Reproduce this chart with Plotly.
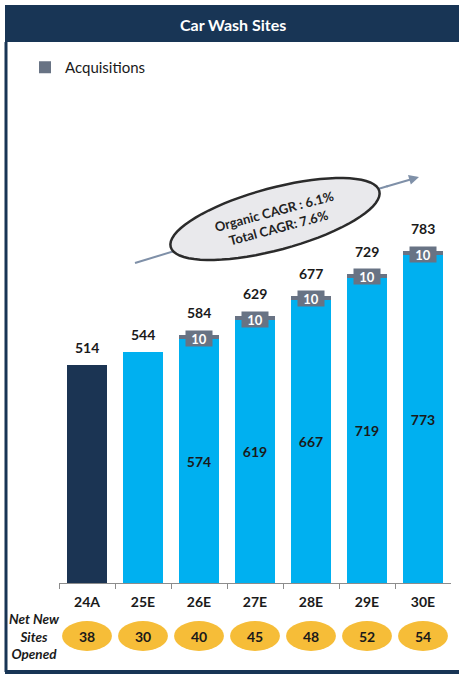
import numpy as np
import plotly.graph_objects as go

# data
years = ["24A", "25E", "26E", "27E", "28E", "29E", "30E"]
organic = [514, 544, 574, 619, 667, 719, 773]
acquisitions = [0, 0, 10, 10, 10, 10, 10]
totals = [514, 544, 584, 629, 677, 729, 783]
net_new_sites = [38, 30, 40, 45, 48, 52, 54]
cagr_lines = ["Organic CAGR : 6.1%", "Total CAGR: 7.6%"]

W, H = 459, 675
FONT = "Lato"
NAVY = "#1b3453"
SKY = "#00b0f0"
GREY = "#687384"
GOLD = "#f6bd38"
INK = "#1a1a1a"


def px(x):
    return x / W


def py(y):
    return 1 - y / H


bar_colors = [NAVY] + [SKY] * (len(years) - 1)
inner_text = [str(o) if a > 0 else "" for o, a in zip(organic, acquisitions)]

fig = go.Figure()
fig.add_trace(go.Bar(
    x=years, y=organic, name="Organic", showlegend=False,
    marker=dict(color=bar_colors, line=dict(width=0)),
    text=inner_text, textposition="inside", insidetextanchor="middle",
    textfont=dict(family=FONT, size=14, color=INK, weight="bold"),
    hoverinfo="skip",
))
fig.add_trace(go.Bar(
    x=years, y=acquisitions, name="Acquisitions",
    marker=dict(color=GREY, line=dict(width=0)),
    hoverinfo="skip",
))

annotations = []
shapes = []

# totals above the bars + grey "10" badges
for yr, org, acq, tot in zip(years, organic, acquisitions, totals):
    annotations.append(dict(
        x=yr, y=tot, xref="x", yref="y", text=str(tot), showarrow=False,
        xanchor="center", yanchor="bottom", yshift=12 if acq else 7,
        font=dict(family=FONT, size=14, color=INK, weight="bold"),
    ))
    if acq:
        annotations.append(dict(
            x=yr, y=org, xref="x", yref="y", text=str(acq), showarrow=False,
            xanchor="center", yanchor="middle", yshift=1, width=26, height=15,
            bgcolor=GREY, borderpad=0,
            font=dict(family=FONT, size=13, color="white", weight="bold"),
        ))

# net new sites ovals under the axis
for i, (yr, n) in enumerate(zip(years, net_new_sites)):
    shapes.append(dict(
        type="circle", xref="x", yref="paper",
        x0=i - 0.445, x1=i + 0.445, y0=py(651), y1=py(621),
        fillcolor=GOLD, line=dict(width=0), layer="above",
    ))
    annotations.append(dict(
        x=yr, y=py(636), xref="x", yref="paper", text=str(n), showarrow=False,
        xanchor="center", yanchor="middle",
        font=dict(family=FONT, size=14, color=INK, weight="bold"),
    ))

annotations.append(dict(
    x=px(34), y=py(636), xref="paper", yref="paper",
    text="<i>Net New<br>Sites<br>Opened</i>", showarrow=False, align="center",
    xanchor="center", yanchor="middle",
    font=dict(family=FONT, size=13.5, color=INK, weight="bold"),
))

# header band, frame
shapes.append(dict(type="rect", xref="paper", yref="paper",
                   x0=px(5), x1=1, y0=py(42), y1=py(5),
                   fillcolor="#183555", line=dict(width=0)))
shapes.append(dict(type="line", xref="paper", yref="paper",
                   x0=px(6), x1=px(6), y0=py(42), y1=py(672),
                   line=dict(color="#183555", width=3)))
shapes.append(dict(type="line", xref="paper", yref="paper",
                   x0=px(5), x1=1, y0=py(672), y1=py(672),
                   line=dict(color="#183555", width=4)))
annotations.append(dict(
    x=px(233), y=py(25), xref="paper", yref="paper", text="Car Wash Sites",
    showarrow=False, xanchor="center", yanchor="middle",
    font=dict(family=FONT, size=16, color="white", weight="bold"),
))

# trend arrow behind the CAGR bubble
shapes.append(dict(type="line", xref="paper", yref="paper",
                   x0=px(135), y0=py(263), x1=px(388), y1=py(186),
                   line=dict(color="#7f90a8", width=2), layer="above"))
annotations.append(dict(
    x=px(419), y=py(177), xref="paper", yref="paper", text="",
    showarrow=True, arrowhead=2, arrowsize=1, arrowwidth=2, arrowcolor="#7f90a8",
    ax=385 - 419, ay=187 - 177,
))

# rotated ellipse bubble
cx, cy, a, b, th = 275, 219, 108, 31, np.deg2rad(15)
t = np.linspace(0, 2 * np.pi, 73)
ex = cx + a * np.cos(t) * np.cos(th) + b * np.sin(t) * np.sin(th)
ey = cy - a * np.cos(t) * np.sin(th) + b * np.sin(t) * np.cos(th)
path = "M " + " L ".join(f"{px(x):.5f},{py(y):.5f}" for x, y in zip(ex, ey)) + " Z"
shapes.append(dict(type="path", xref="paper", yref="paper", path=path,
                   fillcolor="#e9e9ec", line=dict(color="#2b2b2b", width=2.5),
                   layer="above"))
annotations.append(dict(
    x=px(276), y=py(219), xref="paper", yref="paper",
    text="<br>".join(cagr_lines), showarrow=False, textangle=-15,
    xanchor="center", yanchor="middle",
    font=dict(family=FONT, size=13, color="#222222", weight="bold"),
))

YMAX = 1150
axis_bottom = py(583)
fig.update_layout(
    width=W, height=H, autosize=False,
    margin=dict(l=0, r=0, t=0, b=0),
    paper_bgcolor="white", plot_bgcolor="white",
    barmode="stack", bargap=0.29,
    font=dict(family=FONT, color=INK),
    showlegend=True,
    legend=dict(x=px(25), y=py(51), xanchor="left", yanchor="top",
                font=dict(family=FONT, size=15, color=INK),
                bgcolor="rgba(0,0,0,0)"),
    xaxis=dict(
        type="category", range=[-0.5, 6.5],
        domain=[px(59), px(451)],
        showline=True, linecolor="#8c8c8c", linewidth=1,
        ticks="outside", tickson="boundaries", ticklen=5, tickcolor="#8c8c8c",
        ticklabelstandoff=6,
        tickfont=dict(family=FONT, size=14, color=INK, weight="bold"),
        showgrid=False, zeroline=False,
    ),
    yaxis=dict(
        range=[0, YMAX], domain=[axis_bottom, axis_bottom + YMAX * 0.4243 / H],
        visible=False, showgrid=False, zeroline=False,
    ),
    shapes=shapes,
    annotations=annotations,
)

fig.write_html("out.html", config={"displayModeBar": False},
               post_script="document.body.style.margin='0';")
